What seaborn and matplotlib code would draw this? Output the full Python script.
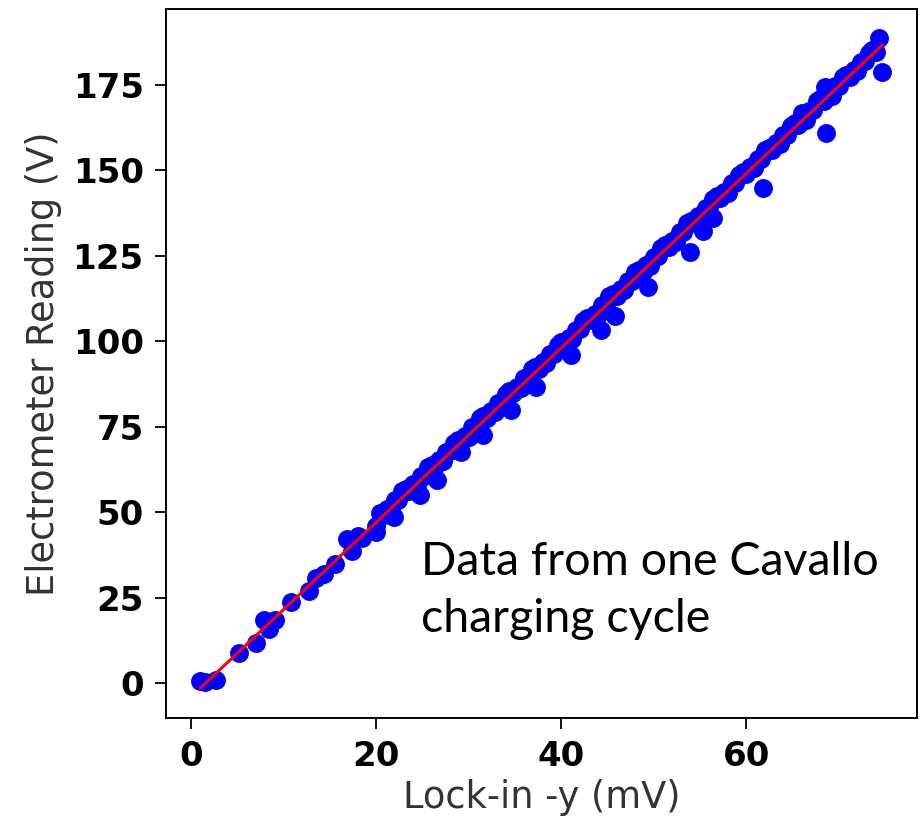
import numpy as np
import pandas as pd
import matplotlib
matplotlib.use("Agg")
import matplotlib.pyplot as plt
import seaborn as sns

# Lock-in -y (mV) and electrometer reading (V) over one charging cycle
lockin_low = [1.0, 1.5, 2.7, 5.2, 7.0, 7.9, 8.4, 9.1, 10.8, 12.8, 13.5, 14.4,
              15.6, 16.9, 17.4, 18.0, 18.5, 20.0]
volts_low = [0.6, 0.3, 1.1, 9.0, 11.7, 18.7, 15.8, 18.7, 23.9, 27.0, 30.9, 31.9,
             34.8, 42.1, 38.7, 43.1, 42.6, 46.0]

lockin_main = [20.4, 20.8, 21.2, 21.6, 22.0, 22.4, 22.8, 23.2, 23.6, 24.0,
               24.4, 24.8, 25.2, 25.6, 26.0, 26.4, 26.8, 27.2, 27.6, 28.0,
               28.4, 28.8, 29.2, 29.6, 30.0, 30.4, 30.8, 31.2, 31.6, 32.0,
               32.4, 32.8, 33.2, 33.6, 34.0, 34.4, 34.8, 35.2, 35.6, 36.0,
               36.4, 36.8, 37.2, 37.6, 38.0, 38.4, 38.8, 39.2, 39.6, 40.0,
               40.4, 40.8, 41.2, 41.6, 42.0, 42.4, 42.8, 43.2, 43.6, 44.0,
               44.4, 44.8, 45.2, 45.6, 46.0, 46.4, 46.8, 47.2, 47.6, 48.0,
               48.4, 48.8, 49.2, 49.6, 50.0, 50.4, 50.8, 51.2, 51.6, 52.0,
               52.4, 52.8, 53.2, 53.6, 54.0, 54.4, 54.8, 55.2, 55.6, 56.0,
               56.4, 56.8, 57.2, 57.6, 58.0, 58.4, 58.8, 59.2, 59.6, 60.0,
               60.4, 60.8, 61.2, 61.6, 62.0, 62.4, 62.8, 63.2, 63.6, 64.0,
               64.4, 64.8, 65.2, 65.6, 66.0, 66.0, 66.4, 66.8, 67.2, 67.6,
               68.0, 68.4, 68.5, 68.8, 69.2, 69.6, 70.0, 70.4, 70.8, 71.2,
               71.6, 72.0, 72.4, 72.8, 73.2, 73.6, 74.0, 74.3]
volts_main = [49.8, 49.2, 51.1, 50.9, 53.6, 53.7, 56.2, 56.9, 56.3, 58.3,
              58.0, 60.7, 60.8, 63.3, 64.0, 63.5, 65.4, 65.1, 67.8, 67.9,
              70.4, 71.2, 70.6, 72.5, 72.2, 74.9, 75.1, 77.6, 78.3, 77.7,
              79.6, 79.3, 82.1, 82.2, 84.7, 85.4, 84.8, 86.8, 86.5, 89.2,
              89.3, 91.8, 92.5, 92.0, 93.9, 93.6, 96.3, 96.4, 98.9, 99.7,
              99.1, 101.0, 100.7, 103.4, 103.6, 106.1, 106.8, 106.2, 108.1, 107.8,
              110.6, 110.7, 113.2, 113.9, 113.3, 115.2, 115.0, 117.7, 117.8, 120.3,
              121.0, 120.4, 122.4, 122.1, 124.8, 124.9, 127.4, 128.2, 127.6, 129.5,
              129.2, 131.9, 132.0, 134.6, 135.3, 134.7, 136.6, 136.3, 139.0, 139.2,
              141.7, 142.4, 141.8, 143.7, 143.5, 146.2, 146.3, 148.8, 149.5, 148.9,
              150.9, 150.6, 153.3, 153.4, 155.9, 156.6, 156.1, 158.0, 157.7, 160.4,
              160.5, 163.1, 163.8, 163.2, 165.1, 166.8, 164.8, 167.5, 167.7, 170.2,
              170.9, 170.3, 174.5, 172.2, 171.9, 174.7, 174.8, 177.3, 178.0, 177.4,
              179.3, 179.1, 181.8, 181.9, 184.4, 185.1, 184.6, 188.7]

lockin_off = [20.0, 21.9, 24.7, 26.6, 29.2, 31.5, 34.6, 37.3, 41.1, 44.3,
              45.8, 49.4, 53.9, 55.3, 56.4, 61.8, 68.6, 74.7]
volts_off = [44.4, 48.8, 55.1, 59.5, 67.8, 72.7, 80.0, 86.6, 95.9, 103.4,
             107.3, 115.9, 126.1, 132.4, 136.0, 144.8, 160.9, 178.9]

x_ticks = [0, 20, 40, 60]
y_ticks = [0, 25, 50, 75, 100, 125, 150, 175]

df = pd.DataFrame({
    "lockin": lockin_low + lockin_main + lockin_off,
    "volts": volts_low + volts_main + volts_off,
})

sns.set_style("ticks")
plt.rcParams["font.family"] = ["DejaVu Sans"]

fig = plt.figure(figsize=(9.22, 8.19), dpi=100)
ax = fig.add_axes([0.180, 0.1233, 0.8143, 0.8653])

# scatter of readings with a least-squares line through them
sns.regplot(data=df, x="lockin", y="volts", ax=ax, ci=None, truncate=True,
            scatter_kws={"s": 185, "color": "#0000ff", "linewidths": 0, "alpha": 1},
            line_kws={"color": "#ff0000", "lw": 2.2, "zorder": 3})

ax.set_xlim(-2.7, 78.4)
ax.set_ylim(-10.1, 197.1)
ax.set_xticks(x_ticks)
ax.set_yticks(y_ticks)
ax.tick_params(axis="both", direction="out", length=8, width=1.3, pad=8,
               labelsize=24.5, colors="black")
for lbl in ax.get_xticklabels() + ax.get_yticklabels():
    lbl.set_fontweight("bold")
for sp in ax.spines.values():
    sp.set_visible(True)
    sp.set_color("black")
    sp.set_linewidth(1.4)

ax.set_xlabel("Lock-in -y (mV)", fontsize=26.5, color="#333333", labelpad=4)
ax.set_ylabel("Electrometer Reading (V)", fontsize=26.5, color="#333333", labelpad=8)

ax.text(24.9, 31.7, "Data from one Cavallo", fontsize=33.5, family="Lato",
        color="black", va="baseline", ha="left")
ax.text(24.9, 15.1, "charging cycle", fontsize=33.5, family="Lato",
        color="black", va="baseline", ha="left")

fig.savefig("out.png", dpi=100, facecolor="white")
